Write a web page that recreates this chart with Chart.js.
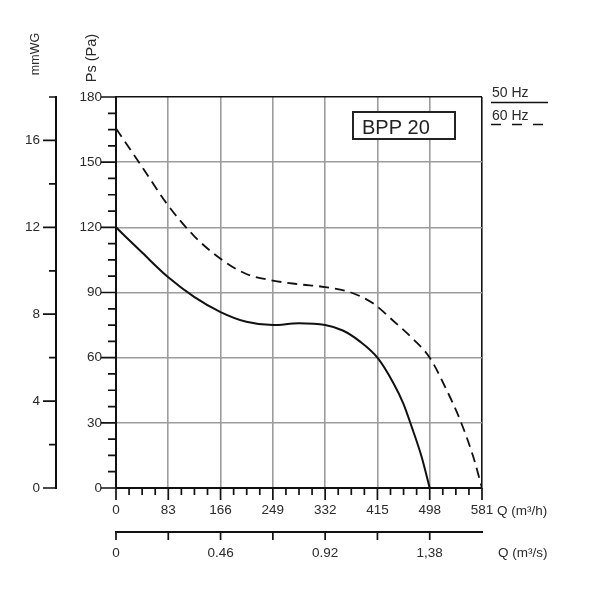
<!DOCTYPE html>
<html>
<head>
<meta charset="utf-8">
<script src="https://cdn.jsdelivr.net/npm/chart.js@4.4.1/dist/chart.umd.min.js"></script>
<style>
  html, body { margin: 0; padding: 0; background: #fff; }
</style>
</head>
<body>
<canvas id="fanChart" width="600" height="600"></canvas>
<script>

// 50 Hz curve (solid), Q in m3/h, Ps in Pa
let flowQ50 = [0, 41, 83, 124, 166, 207, 249, 290, 332, 360, 387, 415, 440, 456, 469, 485, 498];
let pres50 = [120, 108.5, 97, 88, 81, 76.5, 75, 75.8, 75, 72.5, 67.5, 60, 48.5, 39, 28.5, 14.5, 0];

// 60 Hz curve (dashed)
let flowQ60 = [0, 41, 83, 124, 166, 207, 249, 290, 332, 373, 408, 440, 472, 498, 525, 546, 567, 581];
let pres60 = [165.5, 148, 130, 116, 105.5, 98.5, 95.5, 93.8, 92.5, 90, 85, 77, 68.5, 60, 45, 31.5, 14.5, 0];

// tick labels
let qhTicks = [0, 83, 166, 249, 332, 415, 498, 581];
let paTicks = [0, 30, 60, 90, 120, 150, 180];
let mmTicks = [0, 4, 8, 12, 16];
let msTicks = [0, 166, 332, 498];          // where the m3/s labels sit on the m3/h scale
let msLabels = ["0", "0.46", "0.92", "1,38"];

const FONT = '"Liberation Sans", Arial, sans-serif';
const INK = "#111";
const TEXT = "#2a2a2a";

function makeTicks(max, step, majors) {
    let list = [];
    for (let i = 0; i * step <= max + 1e-6; i++) {
        let v = Math.round(i * step * 1000) / 1000;
        list.push({ value: v, major: majors.some(m => Math.abs(m - v) < 1e-6) });
    }
    return list;
}

function gridColor(c, edge) {
    if (!c.tick || !c.tick.major) return "rgba(0,0,0,0)";
    return c.tick.value === edge ? INK : "#9c9c9c";
}

// tick marks, titles, legend and the model box
const extras = {
    id: "extras",
    afterDraw(chart) {
        const ctx = chart.ctx;
        const a = chart.chartArea;
        const sx = chart.scales.x, sy = chart.scales.y;
        const sx2 = chart.scales.x2, sy2 = chart.scales.y2;

        ctx.save();
        ctx.strokeStyle = INK;
        ctx.lineWidth = 1.7;
        ctx.beginPath();
        sx.ticks.forEach(t => {
            let p = sx.getPixelForValue(t.value);
            ctx.moveTo(p, a.bottom);
            ctx.lineTo(p, a.bottom + (t.major ? 12 : 7));
        });
        sy.ticks.forEach(t => {
            let p = sy.getPixelForValue(t.value);
            ctx.moveTo(a.left, p);
            ctx.lineTo(a.left - (t.major ? 15 : 8), p);
        });
        sy2.ticks.forEach(t => {
            let p = sy2.getPixelForValue(t.value);
            ctx.moveTo(sy2.right, p);
            ctx.lineTo(sy2.right - (t.major ? 13 : 7), p);
        });
        sx2.ticks.forEach(t => {
            let p = sx2.getPixelForValue(t.value);
            ctx.moveTo(p, sx2.top);
            ctx.lineTo(p, sx2.top + 8);
        });
        ctx.stroke();

        // axis titles
        ctx.fillStyle = TEXT;
        ctx.textAlign = "center";
        ctx.textBaseline = "middle";
        ctx.font = "12.5px " + FONT;
        ctx.save();
        ctx.translate(36, 54);
        ctx.rotate(-Math.PI / 2);
        ctx.fillText("mmWG", 0, 0);
        ctx.restore();
        ctx.font = "14.5px " + FONT;
        ctx.save();
        ctx.translate(92, 58);
        ctx.rotate(-Math.PI / 2);
        ctx.fillText("Ps (Pa)", 0, 0);
        ctx.restore();

        ctx.textAlign = "left";
        ctx.font = "13.5px " + FONT;
        ctx.fillText("Q (m\u00b3/h)", 497, 511);
        ctx.fillText("Q (m\u00b3/s)", 498, 553);

        // legend
        ctx.textBaseline = "alphabetic";
        ctx.font = "14px " + FONT;
        ctx.fillText("50 Hz", 492, 97);
        ctx.fillText("60 Hz", 492, 120);
        ctx.lineWidth = 1.7;
        ctx.beginPath();
        ctx.moveTo(491, 102.5);
        ctx.lineTo(548, 102.5);
        ctx.stroke();
        ctx.setLineDash([10, 11]);
        ctx.beginPath();
        ctx.moveTo(491, 124.5);
        ctx.lineTo(548, 124.5);
        ctx.stroke();
        ctx.setLineDash([]);

        // model box
        ctx.fillStyle = "#fff";
        ctx.fillRect(353, 112, 102, 27);
        ctx.lineWidth = 2;
        ctx.strokeStyle = "#222";
        ctx.strokeRect(353, 112, 102, 27);
        ctx.fillStyle = "#222";
        ctx.font = "20px " + FONT;
        ctx.fillText("BPP 20", 362, 134);
        ctx.restore();
    }
};

let fanChart = new Chart(document.getElementById("fanChart"), {
    type: "line",
    data: {
        datasets: [
            {
                label: "50 Hz",
                data: flowQ50.map((q, i) => ({ x: q, y: pres50[i] })),
                borderColor: INK,
                borderWidth: 2,
                pointRadius: 0,
                fill: false,
                cubicInterpolationMode: "monotone"
            },
            {
                label: "60 Hz",
                data: flowQ60.map((q, i) => ({ x: q, y: pres60[i] })),
                borderColor: INK,
                borderWidth: 1.8,
                borderDash: [10, 6],
                pointRadius: 0,
                fill: false,
                cubicInterpolationMode: "monotone"
            }
        ]
    },
    options: {
        responsive: false,
        animation: false,
        events: [],
        layout: { padding: { left: 0, top: 97, right: 118, bottom: 0 } },
        plugins: { legend: { display: false }, tooltip: { enabled: false } },
        scales: {
            x: {
                type: "linear",
                position: "bottom",
                min: 0,
                max: 581,
                afterFit: s => { s.height = 44; },
                afterBuildTicks: s => { s.ticks = makeTicks(581, 20.75, qhTicks); },
                grid: {
                    drawTicks: false,
                    color: c => gridColor(c, 581),
                    lineWidth: 1.6
                },
                border: { display: true, color: INK, width: 2 },
                ticks: {
                    autoSkip: false,
                    maxRotation: 0,
                    padding: 14,
                    color: TEXT,
                    font: { family: FONT, size: 13.5 },
                    callback: (v, i, t) => t[i].major ? String(v) : ""
                }
            },
            y: {
                type: "linear",
                position: "left",
                min: 0,
                max: 180,
                afterFit: s => { s.width = 60; },
                afterBuildTicks: s => { s.ticks = makeTicks(180, 7.5, paTicks); },
                grid: {
                    drawTicks: false,
                    color: c => gridColor(c, 180),
                    lineWidth: 1.6
                },
                border: { display: true, color: INK, width: 2 },
                ticks: {
                    autoSkip: false,
                    padding: 14,
                    color: TEXT,
                    font: { family: FONT, size: 13.5 },
                    callback: (v, i, t) => t[i].major ? String(v) : ""
                }
            },
            x2: {
                type: "linear",
                position: "bottom",
                min: 0,
                max: 581,
                afterFit: s => { s.height = 68; },
                afterBuildTicks: s => { s.ticks = makeTicks(498, 83, msTicks); },
                grid: { drawOnChartArea: false, drawTicks: false },
                border: { display: true, color: INK, width: 2 },
                ticks: {
                    autoSkip: false,
                    maxRotation: 0,
                    padding: 13,
                    color: TEXT,
                    font: { family: FONT, size: 13.5 },
                    callback: (v, i, t) => {
                        let k = msTicks.indexOf(v);
                        return k >= 0 ? msLabels[k] : "";
                    }
                }
            },
            y2: {
                type: "linear",
                position: "left",
                min: 0,
                max: 18,
                afterFit: s => { s.width = 56; },
                afterBuildTicks: s => { s.ticks = makeTicks(18, 2, mmTicks); },
                grid: { drawOnChartArea: false, drawTicks: false },
                border: { display: true, color: INK, width: 2 },
                ticks: {
                    autoSkip: false,
                    padding: 16,
                    color: TEXT,
                    font: { family: FONT, size: 13.5 },
                    callback: (v, i, t) => t[i].major ? String(v) : ""
                }
            }
        }
    },
    plugins: [extras]
});
</script>
</body>
</html>
